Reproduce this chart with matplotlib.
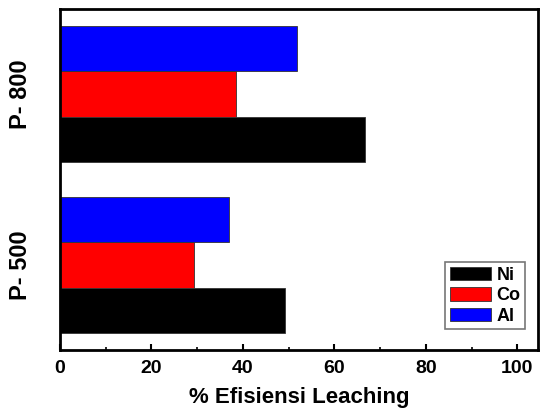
import numpy as np
import matplotlib.pyplot as plt

samples = ['P- 500', 'P- 800']
metals = ['Ni', 'Co', 'Al']
colors = ['black', 'red', 'blue']
ni = [49.3, 66.8]
co = [29.3, 38.4]
al = [37.0, 51.9]

plt.rcParams['font.family'] = ['Liberation Sans', 'DejaVu Sans']
plt.rcParams['font.weight'] = 'bold'

fig = plt.figure(figsize=(5.4, 4.12), dpi=100)
ax = fig.add_axes([0.111, 0.150, 0.885, 0.829])

y = np.arange(len(samples))
h = 0.8 / 3
for i, (vals, name, c) in enumerate(zip([ni, co, al], metals, colors)):
    ax.barh(y + (i - 1) * h, vals, height=h, color=c, edgecolor='#333333',
            linewidth=0.6, label=name)

ax.set_xlim(0, 104.5)
ax.set_ylim(-0.5, 1.5)
ax.set_xticks([0, 20, 40, 60, 80, 100])
ax.set_xticks([10, 30, 50, 70, 90], minor=True)
ax.set_yticks(y)
ax.set_yticklabels(samples, rotation=90, va='center', fontsize=17, fontweight='bold')
ax.tick_params(axis='x', which='major', direction='in', length=4, width=1.5,
               labelsize=14, pad=7)
ax.tick_params(axis='x', which='minor', direction='in', length=2.5, width=1.2)
ax.tick_params(axis='y', length=0, pad=20)
for lab in ax.get_xticklabels():
    lab.set_fontweight('bold')
for s in ax.spines.values():
    s.set_linewidth(2)

ax.set_xlabel('% Efisiensi Leaching', fontsize=16, fontweight='bold', labelpad=7)

leg = ax.legend(loc='lower right', bbox_to_anchor=(0.985, 0.045), fancybox=False,
                edgecolor='#777777', framealpha=1, prop={'size': 13, 'weight': 'bold'},
                handlelength=2.3, handleheight=0.75, handletextpad=0.3,
                borderpad=0.25, labelspacing=0.2, borderaxespad=0.3)
leg.get_frame().set_linewidth(1.2)

fig.savefig('out.png', dpi=100)
